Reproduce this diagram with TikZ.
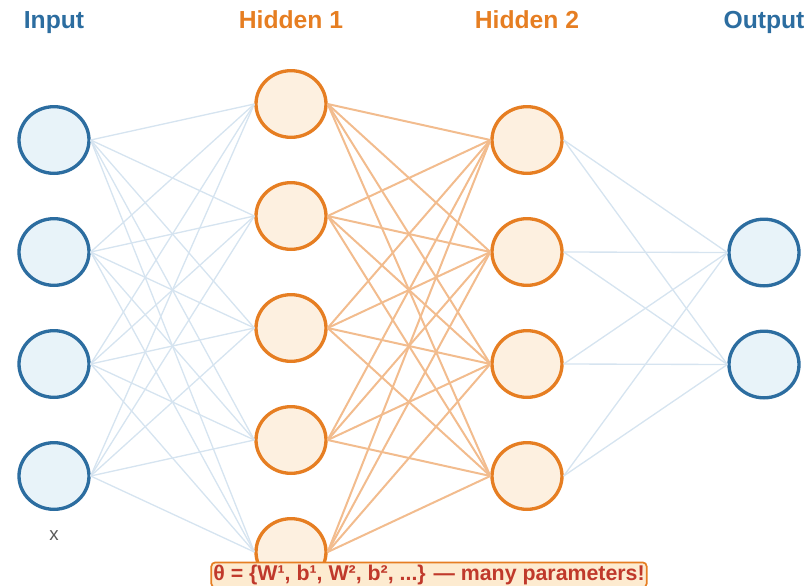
\documentclass[tikz,border=0pt]{standalone}
\usepackage{fontspec}
\setmainfont{Liberation Sans}
\usetikzlibrary{shapes.geometric}

\definecolor{inblue}{HTML}{2C6DA0}
\definecolor{infill}{HTML}{E8F3F9}
\definecolor{hidorange}{HTML}{E67E22}
\definecolor{hidfill}{HTML}{FDF0E0}
\definecolor{bluelink}{HTML}{D6E4F0}
\definecolor{orangelink}{HTML}{F2BC8E}
\definecolor{thetared}{HTML}{C0392B}
\definecolor{thetafill}{HTML}{FDEBD0}

\begin{document}
\begin{tikzpicture}[x=0.75pt, y=-0.75pt,
    unit/.style={ellipse, line width=2.5pt, minimum width=52.5pt,
      minimum height=50pt, inner sep=0pt},
    innode/.style={unit, draw=inblue, fill=infill},
    hidnode/.style={unit, draw=hidorange, fill=hidfill},
    head/.style={anchor=base, font=\bfseries\fontsize{18.5}{20}\selectfont}]
    \useasboundingbox (0,0) rectangle (808,586);

    % layers
    \foreach \i/\y in {1/140,2/252,3/364,4/476}
      \node[innode] (in\i) at (54,\y) {};
    \foreach \i/\y in {1/104,2/216,3/328,4/440,5/552}
      \node[hidnode] (ha\i) at (291,\y) {};
    \foreach \i/\y in {1/140,2/252,3/364,4/476}
      \node[hidnode] (hb\i) at (527,\y) {};
    \foreach \i/\y in {1/252.5,2/364.5}
      \node[innode] (out\i) at (764,\y) {};

    % weights
    \foreach \i in {1,...,4}
      \foreach \j in {1,...,5}
      \draw[color=bluelink, line width=1pt] (in\i.east) -- (ha\j.west);
    \foreach \i in {1,...,5}
      \foreach \j in {1,...,4}
      \draw[color=orangelink, line width=1.5pt] (ha\i.east) -- (hb\j.west);
    \foreach \i in {1,...,4}
      \foreach \j in {1,2}
      \draw[color=bluelink, line width=1pt] (hb\i.east) -- (out\j.west);

    \node[head, text=inblue] (linput) at (54,28) {Input};
    \node[head, text=hidorange] (lhida) at (291,28) {Hidden 1};
    \node[head, text=hidorange] (lhidb) at (527,28) {Hidden 2};
    \node[head, text=inblue] (loutput) at (764,28) {Output};
    \node[text=black!65, font=\fontsize{14}{16}\selectfont] (lx) at (54,536) {x};

    \node[draw=hidorange, fill=thetafill, line width=1.3pt, rounded corners=3pt,
      inner xsep=1.5pt, inner ysep=2pt, text=thetared,
      font=\bfseries\fontsize{16}{18}\selectfont] (theta) at (429,575)
      {θ = \{W¹, b¹, W², b², ...\} — many parameters!};
\end{tikzpicture}
\end{document}
